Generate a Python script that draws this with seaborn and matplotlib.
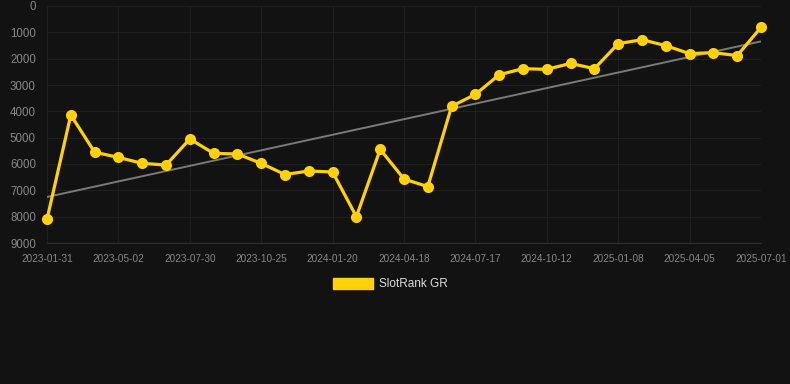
import matplotlib
matplotlib.use("Agg")
import matplotlib.pyplot as plt
import matplotlib.patches as mpatches
import numpy as np
import pandas as pd
import seaborn as sns

# ---- data ----
ranks = [8100, 4140, 5550, 5750, 5975, 6040, 5050, 5595, 5620, 5975,
         6400, 6265, 6305, 8000, 5445, 6570, 6860, 3810, 3355, 2610,
         2380, 2405, 2180, 2380, 1430, 1280, 1505, 1810, 1770, 1885, 810]
tick_labels = ["2023-01-31", "2023-05-02", "2023-07-30", "2023-10-25",
               "2024-01-20", "2024-04-18", "2024-07-17", "2024-10-12",
               "2025-01-08", "2025-04-05", "2025-07-01"]
series_name = "SlotRank GR"
y_ticks = [0, 1000, 2000, 3000, 4000, 5000, 6000, 7000, 8000, 9000]

df = pd.DataFrame({"idx": np.arange(len(ranks)), "rank": ranks})

BG = "#121212"
YEL = "#FFD10A"
GRID = "#1f1f1f"

sns.set_theme(style="dark")
plt.rcParams["font.family"] = ["Liberation Sans", "DejaVu Sans"]

fig = plt.figure(figsize=(7.9, 3.84), dpi=100, facecolor=BG)
ax = fig.add_axes([47 / 790, 1 - 243 / 384, (761 - 47) / 790, (243 - 6) / 384])
ax.set_facecolor(BG)

# trend line
sns.regplot(data=df, x="idx", y="rank", scatter=False, ci=None, ax=ax,
            line_kws={"color": "#7a7a7a", "lw": 1.4, "zorder": 2}, truncate=True)

sns.lineplot(data=df, x="idx", y="rank", ax=ax, color=YEL, lw=2.3,
             marker="o", markersize=8, markeredgewidth=0, zorder=3,
             clip_on=False)

ax.set_xlim(0, len(ranks) - 1)
ax.set_ylim(9000, 0)
ax.set_yticks(y_ticks)
ax.set_yticklabels([str(v) for v in y_ticks])
ax.set_xticks(np.arange(0, len(ranks), 3))
ax.set_xticklabels(tick_labels)
ax.set_xlabel("")
ax.set_ylabel("")

ax.grid(True, color=GRID, lw=0.8)
ax.tick_params(axis="y", colors="#888888", labelsize=8.3, length=6, color=GRID, pad=2)
ax.tick_params(axis="x", colors="#888888", labelsize=7.2, length=6, color=GRID, pad=2)
for s in ax.spines.values():
    s.set_visible(False)
ax.spines["bottom"].set_visible(True)
ax.spines["bottom"].set_color("#303030")
ax.spines["bottom"].set_linewidth(0.8)

handle = mpatches.Patch(color=YEL, label=series_name)
leg = fig.legend(handles=[handle], loc="center", bbox_to_anchor=(0.494, 1 - 284 / 384),
                 frameon=False, fontsize=8.5, handlelength=3.4, handleheight=1.1,
                 handletextpad=0.55)
for t in leg.get_texts():
    t.set_color("#dddddd")

fig.savefig("out.png", dpi=100, facecolor=BG)
